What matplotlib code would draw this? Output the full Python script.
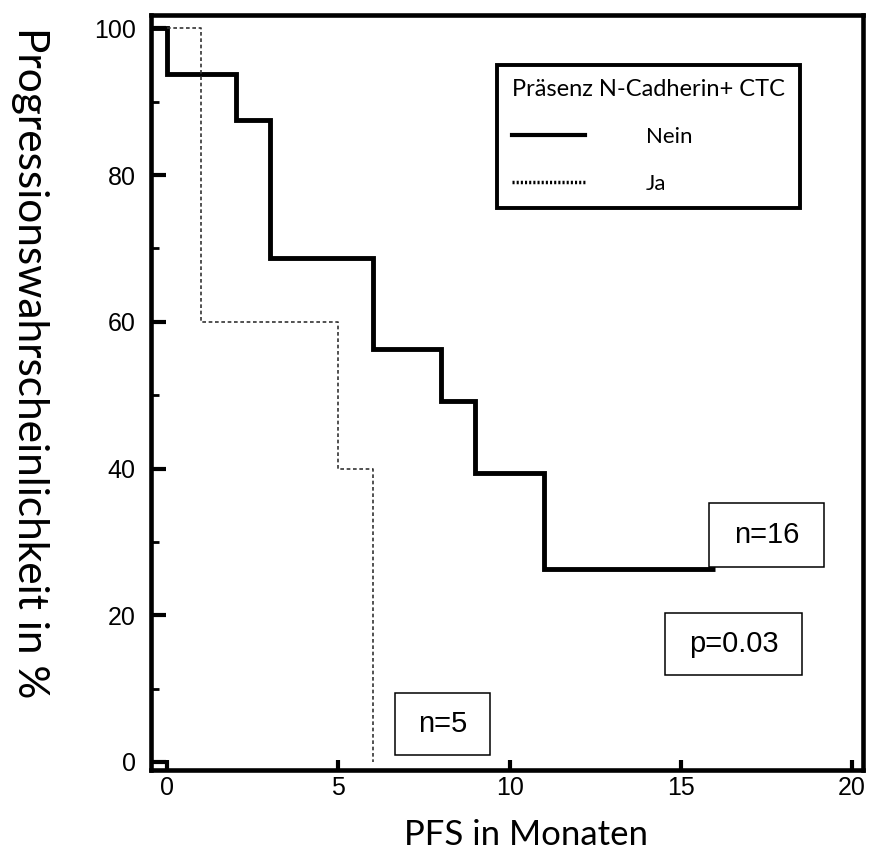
import matplotlib
matplotlib.use("Agg")
import matplotlib.pyplot as plt
from matplotlib.lines import Line2D
from matplotlib.patches import Rectangle

# Kaplan-Meier Daten (PFS in Monaten, Progressionswahrscheinlichkeit in %)
nein_monate = [0, 2, 3, 6, 8, 9, 11, 16]
nein_prozent = [93.75, 87.5, 68.75, 56.25, 49.2, 39.4, 26.3, 26.3]
ja_monate = [0, 1, 5, 6]
ja_prozent = [100, 60, 40, 0]
start_prozent = 100

x_ticks = [0, 5, 10, 15, 20]
y_ticks = [0, 20, 40, 60, 80, 100]
y_minor = [10, 30, 50, 70, 90]

legend_titel = "Präsenz N-Cadherin+ CTC"
serien_namen = ["Nein", "Ja"]
# Beschriftungskaesten: Text, Mitte x, Mitte y (Daten), Breite, Hoehe (Daten)
kaesten = [("n=16", 17.5, 30.9, 3.35, 8.7),
           ("p=0.03", 16.55, 16.1, 4.0, 8.45),
           ("n=5", 8.04, 5.2, 2.75, 8.45)]

fig = plt.figure(figsize=(8.71, 8.5), dpi=100)
ax = fig.add_axes([0.1734, 0.0941, 0.8175, 0.888])
ax.set_xlim(-0.47, 20.32)
ax.set_ylim(-1.1, 101.8)

x0 = ax.get_xlim()[0]
ax.plot([x0] + nein_monate, [start_prozent] + nein_prozent, color="black", lw=3.5,
        drawstyle="steps-post", solid_joinstyle="miter", solid_capstyle="butt")
ax.plot(ja_monate, ja_prozent, color="#333333", lw=1.2, linestyle=(0, (2.2, 1.6)),
        drawstyle="steps-post")

for sp in ax.spines.values():
    sp.set_linewidth(3.3)

ax.set_xticks(x_ticks)
ax.set_yticks(y_ticks)
ax.set_yticks(y_minor, minor=True)
ax.tick_params(axis="both", which="major", direction="in", width=3, colors="black",
               labelsize=18)
ax.tick_params(axis="y", which="major", length=11, pad=11)
ax.tick_params(axis="x", which="major", length=7, pad=4)
ax.tick_params(axis="y", which="minor", direction="in", length=6, width=2)
for lab in ax.get_xticklabels() + ax.get_yticklabels():
    lab.set_fontfamily("Liberation Sans")

ax.set_xlabel("PFS in Monaten", fontsize=25, family="Lato")
ax.xaxis.set_label_coords(0.527, -0.065)
ax.set_ylabel("Progressionswahrscheinlichkeit in %", fontsize=30.5, family="Lato",
              rotation=-90, ha="center", va="center")
ax.yaxis.set_label_coords(-0.17, 0.54)

handles = [Line2D([], [], color="black", lw=3.0),
           Line2D([], [], color="black", lw=2.5, linestyle=(0, (0.6, 0.6)))]
leg = ax.legend(handles, serien_namen, title=legend_titel, loc="upper left",
                bbox_to_anchor=(0.486, 0.748, 0.426, 0.186), mode="expand",
                borderaxespad=0, fancybox=False, edgecolor="black", framealpha=1,
                prop={"family": "Lato", "size": 16},
                title_fontproperties={"family": "Lato", "size": 17},
                handlelength=3.3, handletextpad=2.75, labelspacing=1.2,
                borderpad=0.65, alignment="left")
leg.get_frame().set_linewidth(2.8)

for text, cx, cy, w, h in kaesten:
    ax.add_patch(Rectangle((cx - w / 2, cy - h / 2), w, h, facecolor="white",
                           edgecolor="black", lw=1.1, zorder=3))
    ax.text(cx, cy, text, ha="center", va="center", fontsize=21,
            family="Liberation Sans", zorder=4)

fig.savefig("out.png", dpi=100)
